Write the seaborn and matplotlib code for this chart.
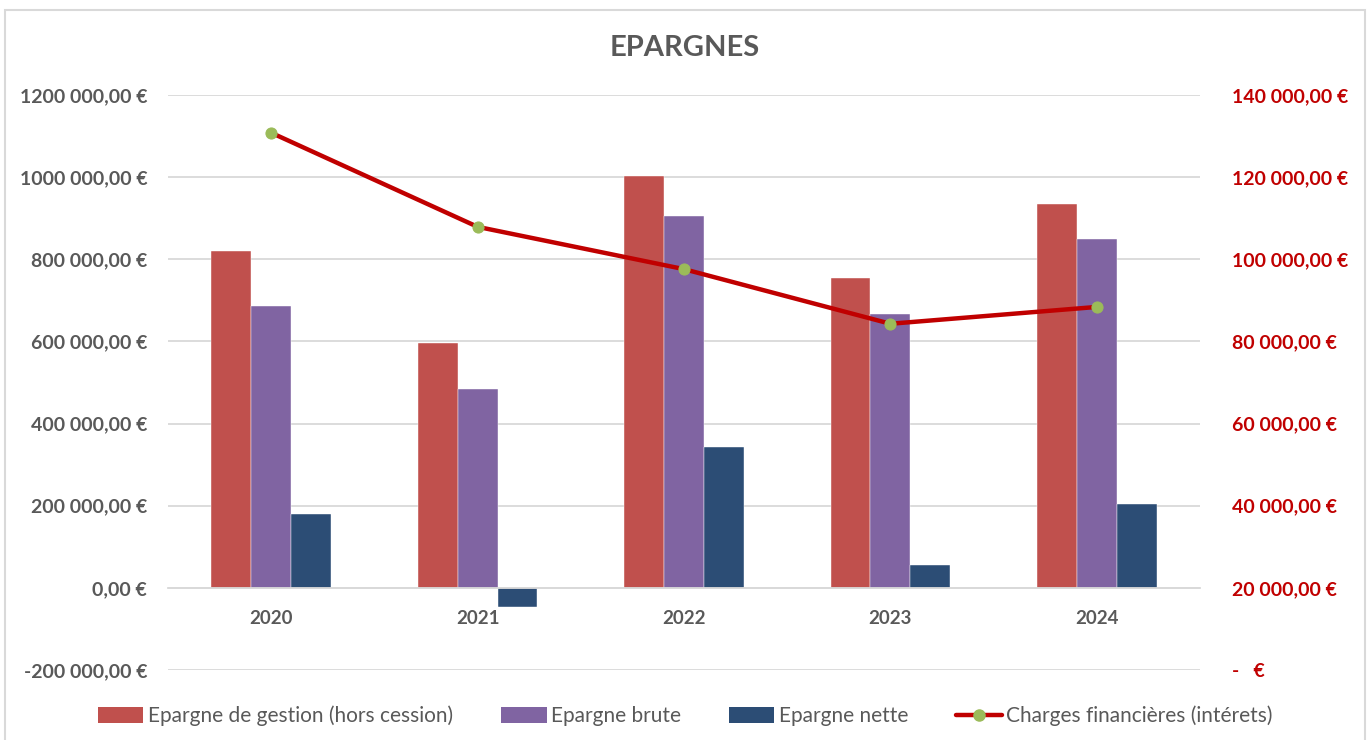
import numpy as np
import pandas as pd
import matplotlib
matplotlib.use("Agg")
import matplotlib.pyplot as plt
from matplotlib.lines import Line2D
from matplotlib.patches import Patch, Rectangle
import seaborn as sns

years = ["2020", "2021", "2022", "2023", "2024"]
series_names = ["Epargne de gestion (hors cession)", "Epargne brute", "Epargne nette"]
epargne_gestion = [820000, 595000, 1003000, 755000, 935000]
epargne_brute = [686000, 485000, 905000, 668000, 849000]
epargne_nette = [181000, -46000, 343000, 56000, 203000]
charges_fin = [130800, 107900, 97600, 84300, 88400]
line_name = "Charges financières (intérets)"

left_ticks = [-200000, 0, 200000, 400000, 600000, 800000, 1000000, 1200000]
left_labels = ["-200 000,00 €", "0,00 €", "200 000,00 €", "400 000,00 €", "600 000,00 €",
               "800 000,00 €", "1000 000,00 €", "1200 000,00 €"]
right_ticks = [0, 20000, 40000, 60000, 80000, 100000, 120000, 140000]
right_labels = ["-   €", "20 000,00 €", "40 000,00 €", "60 000,00 €", "80 000,00 €",
                "100 000,00 €", "120 000,00 €", "140 000,00 €"]

colors = ["#C0504D", "#8064A2", "#2C4D75"]
grey = "#595959"
red = "#C00000"

sns.set_theme(style="white")
plt.rcParams["font.family"] = ["Lato", "DejaVu Sans"]

df = pd.DataFrame({
    "year": years * 3,
    "serie": sum([[s] * len(years) for s in series_names], []),
    "value": epargne_gestion + epargne_brute + epargne_nette,
})

fig = plt.figure(figsize=(13.7, 7.4), dpi=100)
ax = fig.add_axes([168 / 1370, 1 - 670 / 740, (1200 - 168) / 1370, (670 - 95) / 740])

sns.barplot(data=df, x="year", y="value", hue="serie", palette=colors, width=0.58,
            gap=0, ax=ax, legend=False, saturation=1, edgecolor="white", linewidth=0.3)

ax.set_xlim(-0.5, len(years) - 0.5)
ax.set_ylim(-200000, 1200000)
ax.set_yticks(left_ticks)
ax.set_yticklabels(left_labels)
ax.yaxis.grid(True, color="#D9D9D9", linewidth=1.3)
ax.set_axisbelow(True)
for s in ["top", "right", "left"]:
    ax.spines[s].set_visible(False)
ax.spines["bottom"].set_position(("data", 0))
ax.spines["bottom"].set_color("#D9D9D9")
ax.spines["bottom"].set_linewidth(1.3)
ax.tick_params(axis="x", length=0, pad=16, labelsize=13.5, labelcolor=grey)
ax.tick_params(axis="y", length=0, pad=15, labelsize=14, labelcolor=grey)
for t in ax.get_xticklabels() + ax.get_yticklabels():
    t.set_fontweight("bold")
ax.set_xlabel("")
ax.set_ylabel("")

ax2 = ax.twinx()
sns.lineplot(x=np.arange(len(years)), y=charges_fin, ax=ax2, color=red, linewidth=3.2,
             marker="o", markersize=8, markerfacecolor="#9BBB59", markeredgecolor="#9BBB59",
             legend=False)
ax2.set_ylim(0, 140000)
ax2.set_yticks(right_ticks)
ax2.set_yticklabels(right_labels)
ax2.tick_params(axis="y", length=0, pad=23, labelsize=14, labelcolor=red)
for t in ax2.get_yticklabels():
    t.set_fontweight("bold")
for s in ax2.spines.values():
    s.set_visible(False)
ax2.set_ylabel("")

fig.text(0.5, 1 - 48 / 740, "EPARGNES", ha="center", va="center", fontsize=21,
         fontweight="bold", color=grey)

handles = [Patch(facecolor=c, edgecolor="none") for c in colors]
handles.append(Line2D([0], [0], color=red, linewidth=3.2, marker="o", markersize=8,
                      markerfacecolor="#9BBB59", markeredgecolor="#9BBB59"))
leg = fig.legend(handles, series_names + [line_name], loc="center",
                 bbox_to_anchor=(0.5, 1 - 716 / 740), ncol=4, frameon=False,
                 fontsize=15, handlelength=2.2, handleheight=0.8, columnspacing=2.3,
                 handletextpad=0.2)
for t in leg.get_texts():
    t.set_color(grey)

fig.patches.append(Rectangle((5 / 1370, -0.01), 1360 / 1370, 1 - 10 / 740 + 0.01,
                             transform=fig.transFigure, fill=False,
                             edgecolor="#D9D9D9", linewidth=1.5))

fig.savefig("out.png", dpi=100)
